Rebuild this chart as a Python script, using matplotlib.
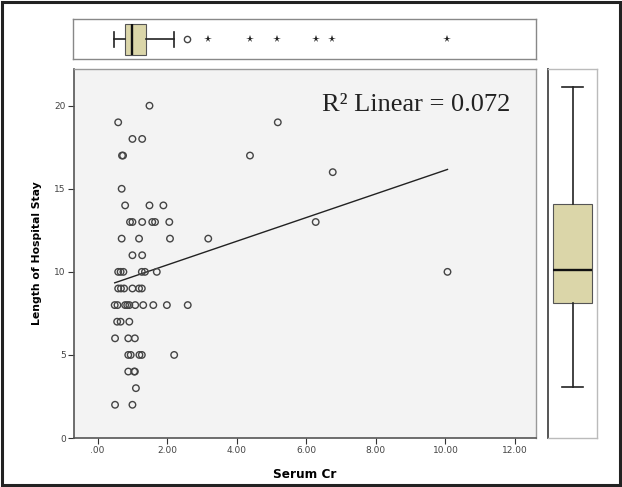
import numpy as np
import matplotlib
matplotlib.use("Agg")
import matplotlib.pyplot as plt
from matplotlib.patches import Rectangle

# scatter data: serum creatinine vs length of stay
serum_cr = [
    1.49,
    0.59, 5.18,
    1.00, 1.28,
    0.70, 0.73, 4.38,
    6.76,
    0.69,
    0.79, 1.49, 1.89,
    0.93, 1.00, 1.28, 1.57, 1.65, 2.06, 6.27,
    0.69, 1.19, 2.08, 3.18,
    1.00, 1.28,
    0.59, 0.66, 0.74, 1.27, 1.36, 1.70, 10.06,
    0.59, 0.67, 0.76, 1.00, 1.19, 1.27,
    0.49, 0.57, 0.79, 0.85, 0.91, 1.08, 1.31, 1.60, 1.99, 2.59,
    0.56, 0.66, 0.91,
    0.50, 0.88, 1.07,
    0.88, 0.95, 1.20, 1.27, 2.20,
    0.88, 1.05, 1.07,
    1.10,
    0.50, 1.00,
]
stay = [
    20,
    19, 19,
    18, 18,
    17, 17, 17,
    16,
    15,
    14, 14, 14,
    13, 13, 13, 13, 13, 13, 13,
    12, 12, 12, 12,
    11, 11,
    10, 10, 10, 10, 10, 10, 10,
    9, 9, 9, 9, 9, 9,
    8, 8, 8, 8, 8, 8, 8, 8, 8, 8,
    7, 7, 7,
    6, 6, 6,
    5, 5, 5, 5, 5,
    4, 4, 4,
    3,
    2, 2,
]

r2_label = "R\u00b2 Linear = 0.072"

# marginal boxplots (values as drawn)
cr_box = dict(whislo=0.49, q1=0.80, med=1.00, q3=1.41, whishi=2.20)
cr_mild_outliers = [2.58]
cr_extreme_outliers = [3.18, 4.38, 5.17, 6.28, 6.76, 10.04]
stay_box = dict(whislo=3.1, q1=8.1, med=10.1, q3=14.1, whishi=21.1)

x_ticks = [0, 2, 4, 6, 8, 10, 12]
x_ticklabels = [".00", "2.00", "4.00", "6.00", "8.00", "10.00", "12.00"]
y_ticks = [0, 5, 10, 15, 20]

xlim = (-0.68, 12.61)
ylim = (0, 22.2)

box_color = "#dbd6a9"
tick_color = "#444444"

fig = plt.figure(figsize=(6.22, 4.87), dpi=100)
fig.patch.set_facecolor("white")

ax = fig.add_axes([0.119, 0.1006, 0.743, 0.7574])
ax_top = fig.add_axes([0.118, 0.878, 0.744, 0.082])
ax_right = fig.add_axes([0.881, 0.1006, 0.079, 0.7574])

# main scatter
ax.set_facecolor("#f3f3f3")
ax.scatter(serum_cr, stay, s=22, facecolors="none", edgecolors="#444444", linewidths=1.0, zorder=3)

coef = np.polyfit(serum_cr, stay, 1)
fit_x = np.array([min(serum_cr), max(serum_cr)])
ax.plot(fit_x, np.polyval(coef, fit_x), color="#222222", lw=1.0, zorder=2)

ax.text(0.944, 0.903, r2_label, transform=ax.transAxes, ha="right", va="center",
        fontsize=19, family="Liberation Serif", color="#222222")

ax.set_xlim(*xlim)
ax.set_ylim(*ylim)
ax.set_xticks(x_ticks)
ax.set_xticklabels(x_ticklabels)
ax.set_yticks(y_ticks)
ax.tick_params(axis="both", labelsize=6.5, labelcolor=tick_color, color="#333333",
               length=4, width=0.8, pad=2)
ax.set_xlabel("Serum Cr", fontsize=8.7, fontweight="bold", labelpad=9)
ax.set_ylabel("Length of Hospital Stay", fontsize=7.8, fontweight="bold", labelpad=9)
for side in ["left", "bottom"]:
    ax.spines[side].set_color("#555555")
    ax.spines[side].set_linewidth(1.2)
for side in ["top", "right"]:
    ax.spines[side].set_color("#999999")
    ax.spines[side].set_linewidth(1.0)

# top boxplot (serum cr)
bp = ax_top.bxp([dict(cr_box, fliers=[])], vert=False, positions=[0], widths=0.78,
                capwidths=0.39, patch_artist=True, showfliers=False)
for b in bp["boxes"]:
    b.set_facecolor(box_color)
    b.set_edgecolor("#555555")
    b.set_linewidth(0.8)
for m in bp["medians"]:
    m.set_color("#111111")
    m.set_linewidth(1.7)
for w in bp["whiskers"] + bp["caps"]:
    w.set_color("#222222")
    w.set_linewidth(1.2)
ax_top.plot(cr_mild_outliers, [0] * len(cr_mild_outliers), "o", ms=4.5,
            mfc="none", mec="#444444", mew=1.0)
ax_top.plot(cr_extreme_outliers, [0] * len(cr_extreme_outliers), "*", ms=5.5,
            color="#222222", mew=0)
ax_top.set_xlim(*xlim)
ax_top.set_ylim(-0.5, 0.5)
ax_top.set_xticks([])
ax_top.set_yticks([])
for side in ax_top.spines:
    ax_top.spines[side].set_color("#888888")
    ax_top.spines[side].set_linewidth(1.0)

# right boxplot (length of stay)
bp2 = ax_right.bxp([dict(stay_box, fliers=[])], vert=True, positions=[0], widths=0.8,
                   capwidths=0.41, patch_artist=True, showfliers=False)
for b in bp2["boxes"]:
    b.set_facecolor(box_color)
    b.set_edgecolor("#555555")
    b.set_linewidth(0.8)
for m in bp2["medians"]:
    m.set_color("#111111")
    m.set_linewidth(1.7)
for w in bp2["whiskers"] + bp2["caps"]:
    w.set_color("#222222")
    w.set_linewidth(1.2)
ax_right.set_xlim(-0.5, 0.5)
ax_right.set_ylim(*ylim)
ax_right.set_xticks([])
ax_right.set_yticks([])
for side in ax_right.spines:
    ax_right.spines[side].set_color("#bbbbbb")
    ax_right.spines[side].set_linewidth(1.0)
ax_right.spines["left"].set_color("#555555")
ax_right.spines["left"].set_linewidth(1.4)

# dark outer frame
fig.patches.append(Rectangle((0.004, 0.004), 0.992, 0.992, transform=fig.transFigure,
                             fill=False, edgecolor="#222222", linewidth=2.2))

fig.savefig("out.png", dpi=100)
